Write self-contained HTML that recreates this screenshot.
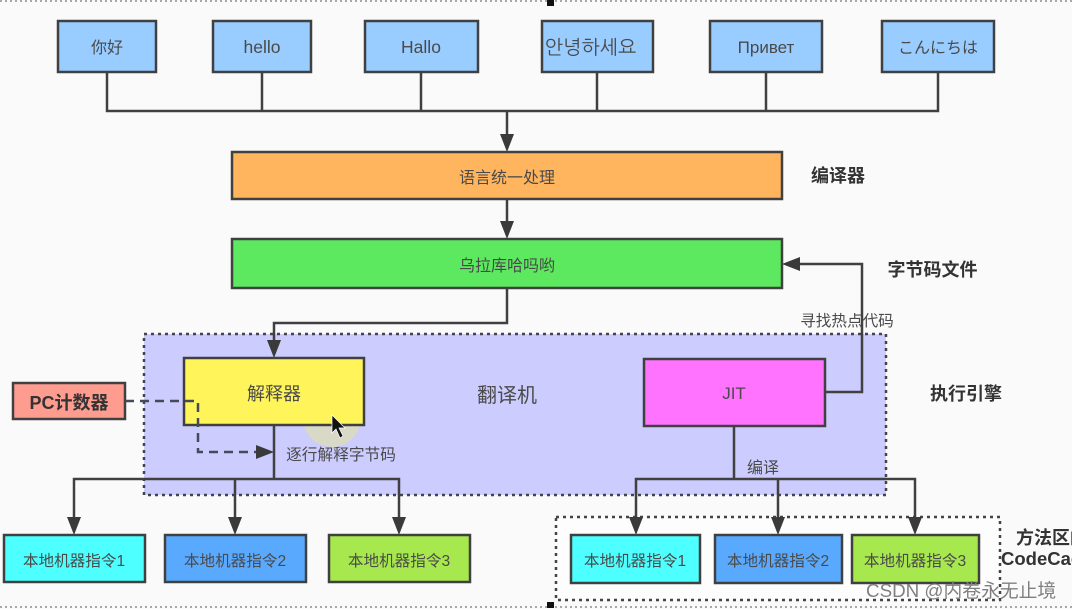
<!DOCTYPE html>
<html><head><meta charset="utf-8">
<style>
html,body{margin:0;padding:0;background:#fafafa;overflow:hidden}
svg{display:block;filter:blur(.35px)}
text{font-family:"Liberation Sans","Noto Sans CJK SC",sans-serif;fill:#4a4a4a}
.b{font-weight:bold;fill:#333}
</style></head>
<body>
<svg width="1072" height="609" viewBox="0 0 1072 609" xmlns="http://www.w3.org/2000/svg">
<defs>
<marker id="a" markerWidth="20" markerHeight="16" refX="12" refY="8" orient="auto" markerUnits="userSpaceOnUse"><path d="M0 1L18 8L0 15Z" fill="#3a3a3a"/></marker>
</defs>
<rect width="1072" height="609" fill="#fafafa"/>
<line x1="0" y1="1" x2="1072" y2="1" stroke="#555" stroke-dasharray="2 3"/>
<line x1="0" y1="607" x2="1072" y2="607" stroke="#555" stroke-dasharray="2 3"/>
<rect x="547" y="0" width="7" height="6" fill="#111"/>
<rect x="547" y="602" width="7" height="6" fill="#111"/>

<rect x="144" y="334" width="742" height="161" fill="#ccccff" stroke="#444" stroke-width="2.5" stroke-dasharray="3 4"/>
<rect x="556" y="517" width="444" height="83" fill="#fdfdfd" stroke="#444" stroke-width="2.5" stroke-dasharray="3 4"/>

<circle cx="332" cy="418" r="29" fill="#d9d9c8"/>

<g fill="none" stroke="#404040" stroke-width="2.5">
<path d="M107 72V111H938V72M262 72V111M421 72V111M597 72V111M766 72V111"/>
<path d="M507 111V146" marker-end="url(#a)"/>
<path d="M507 199V233" marker-end="url(#a)"/>
<path d="M507 288V323H274V352" marker-end="url(#a)"/>
<path d="M825 392H862V264H788" marker-end="url(#a)"/>
<path d="M274 425V479"/>
<path d="M274 479H74V529" marker-end="url(#a)"/>
<path d="M274 479H399V529" marker-end="url(#a)"/>
<path d="M235 479V529" marker-end="url(#a)"/>
<path d="M734 426V479"/>
<path d="M734 479H636V529" marker-end="url(#a)"/>
<path d="M734 479H915V529" marker-end="url(#a)"/>
<path d="M778 479V529" marker-end="url(#a)"/>
</g>

<g stroke="#404040" stroke-width="2.5">
<rect x="58" y="21" width="98" height="51" fill="#99ccff"/>
<rect x="213" y="21" width="98" height="51" fill="#99ccff"/>
<rect x="365" y="21" width="113" height="51" fill="#99ccff"/>
<rect x="542" y="21" width="111" height="51" fill="#99ccff"/>
<rect x="710" y="21" width="112" height="51" fill="#99ccff"/>
<rect x="882" y="21" width="112" height="51" fill="#99ccff"/>
<rect x="232" y="152" width="550" height="47" fill="#ffb45e"/>
<rect x="232" y="239" width="550" height="49" fill="#5ce85f"/>
<rect x="184" y="358" width="180" height="67" fill="#fff45a"/>
<rect x="644" y="359" width="181" height="67" fill="#ff73ff"/>
<rect x="13" y="383" width="112" height="36" fill="#ff9c90"/>
<rect x="4" y="535" width="141" height="47" fill="#4dffff"/>
<rect x="165" y="535" width="141" height="47" fill="#59aaff"/>
<rect x="329" y="535" width="141" height="47" fill="#a6e84d"/>
<rect x="571" y="535" width="129" height="48" fill="#4dffff"/>
<rect x="715" y="535" width="127" height="48" fill="#59aaff"/>
<rect x="852" y="535" width="127" height="48" fill="#a6e84d"/>
</g>

<path d="M125 401H198V452H268" fill="none" stroke="#444a5a" stroke-width="2.5" stroke-dasharray="9 6" marker-end="url(#a)"/>
<path d="M332 415V433L336 429L340 438L343 436L339 428H345Z" fill="#111" stroke="#fff" stroke-width=".7"/>

<g font-size="16" text-anchor="middle">
<text x="107" y="53">你好</text>
<text x="262" y="53" font-size="17.5">hello</text>
<text x="421" y="53" font-size="17.5">Hallo</text>
<text x="590.5" y="54" font-size="19.5" style="font-family:'Liberation Sans',NanumGothic,sans-serif">안녕하세요</text>
<text x="766" y="53" font-size="17">Привет</text>
<text x="938" y="53" style="font-family:'Liberation Sans','Noto Sans CJK JP',sans-serif">こんにちは</text>
<text x="507" y="183">语言统一处理</text>
<text x="507" y="271">乌拉库哈吗哟</text>
<text x="274" y="400" font-size="18">解释器</text>
<text x="734" y="399" font-size="17">JIT</text>
<text x="507" y="402" font-size="20">翻译机</text>
<text x="74" y="566" font-size="15.6">本地机器指令1</text>
<text x="235" y="566" font-size="15.6">本地机器指令2</text>
<text x="399" y="566" font-size="15.6">本地机器指令3</text>
<text x="635" y="566" font-size="15.6">本地机器指令1</text>
<text x="778" y="566" font-size="15.6">本地机器指令2</text>
<text x="915" y="566" font-size="15.6">本地机器指令3</text>
<text x="847" y="326" font-size="15.6">寻找热点代码</text>
<text x="341" y="460" font-size="15.7">逐行解释字节码</text>
<text x="763" y="473">编译</text>
<text class="b" x="69" y="409" font-size="18">PC计数器</text>
<text class="b" x="838" y="182" font-size="18">编译器</text>
<text class="b" x="932.5" y="276" font-size="18">字节码文件</text>
<text class="b" x="966" y="400" font-size="18">执行引擎</text>
</g>
<text class="b" x="1016" y="544" font-size="18">方法区的</text>
<text class="b" x="1001" y="565" font-size="18.5">CodeCache</text>
<text x="866" y="597" font-size="18.8" style="fill:#808080">CSDN @内卷永无止境</text>
</svg>
</body></html>
